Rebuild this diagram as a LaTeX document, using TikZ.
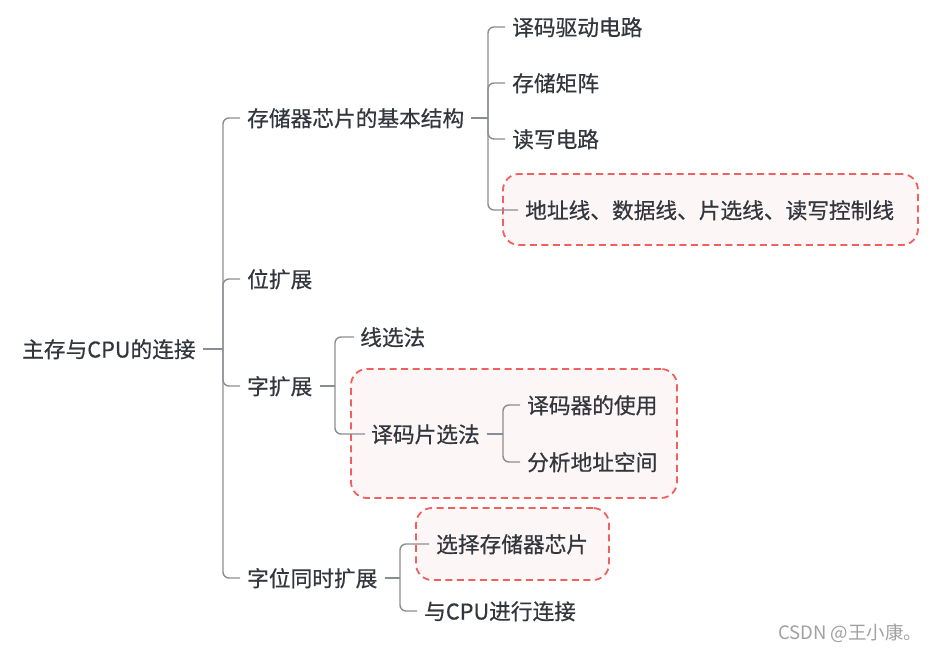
\documentclass[tikz,border=0pt]{standalone}
\usepackage{fontspec}
\setmainfont{Noto Sans CJK SC}
\newfontfamily\mfont[FakeBold=0.6]{Noto Sans CJK SC}
\definecolor{txt}{HTML}{33373D}
\definecolor{conncol}{HTML}{8A8E94}
\definecolor{dashcol}{HTML}{F0605E}
\definecolor{boxfill}{HTML}{FDF6F6}
\definecolor{wmcol}{HTML}{A0A0A0}
\begin{document}
\begin{tikzpicture}[x=1pt,y=-1pt,
  lbl/.style={anchor=west, inner sep=0pt, font=\mfont\fontsize{21.7}{21.7}\selectfont, text=txt, text height=18.5pt, text depth=1.5pt},
  conn/.style={draw=conncol, line width=1.4pt, rounded corners=6pt},
  hlbox/.style={draw=dashcol, line width=1.8pt, dash pattern=on 7pt off 4.5pt, fill=boxfill, rounded corners=16pt, inner sep=0pt},
  wm/.style={anchor=west, inner sep=0pt, font=\fontsize{18.5}{18.5}\selectfont, text=wmcol, text height=15pt, text depth=1pt}
]
\useasboundingbox (0,0) rectangle (930,650);
% highlight boxes
\node[hlbox, minimum width=415pt, minimum height=71pt] (h1) at (710.5,209.5) {};
\node[hlbox, minimum width=326pt, minimum height=129pt] (h2) at (514,433.5) {};
\node[hlbox, minimum width=193pt, minimum height=72pt] (h3) at (512.5,544) {};
% texts
\node[lbl] (root) at (22,349) {主存与CPU的连接};
\node[lbl] (a1) at (247,118) {存储器芯片的基本结构};
\node[lbl] (a2) at (247,279) {位扩展};
\node[lbl] (a3) at (247,386) {字扩展};
\node[lbl] (a4) at (247,578) {字位同时扩展};
\node[lbl] (b1) at (512,27) {译码驱动电路};
\node[lbl] (b2) at (512,83) {存储矩阵};
\node[lbl] (b3) at (512,139) {读写电路};
\node[lbl] (b4) at (525,210) {地址线、数据线、片选线、读写控制线};
\node[lbl] (c1) at (360,337) {线选法};
\node[lbl] (c2) at (371,434) {译码片选法};
\node[lbl] (d1) at (527,405) {译码器的使用};
\node[lbl] (d2) at (527,462) {分析地址空间};
\node[lbl] (e1) at (436,544) {选择存储器芯片};
\node[lbl] (e2) at (424,611) {与CPU进行连接};
\node[wm] (wm) at (778,632) {CSDN @王小康。};
% junctions
\coordinate (j0) at (223,349);
\coordinate (j1) at (488,118);
\coordinate (j3) at (335,386);
\coordinate (j4) at (400,578);
\coordinate (j5) at (503,434);
% connectors
\draw[conn] ([xshift=7pt]root.east) -- (j0);
\foreach \c in {a1,a2,a3,a4} \draw[conn] (j0) |- ([xshift=-7pt]\c.west);
\draw[conn] ([xshift=7pt]a1.east) -- (j1);
\foreach \c in {b1,b2,b3,b4} \draw[conn] (j1) |- ([xshift=-7pt]\c.west);
\draw[conn] ([xshift=7pt]a3.east) -- (j3);
\foreach \c in {c1,c2} \draw[conn] (j3) |- ([xshift=-6pt]\c.west);
\draw[conn] ([xshift=7pt]c2.east) -- (j5);
\foreach \c in {d1,d2} \draw[conn] (j5) |- ([xshift=-7pt]\c.west);
\draw[conn] ([xshift=7pt]a4.east) -- (j4);
\foreach \c in {e1,e2} \draw[conn] (j4) |- ([xshift=-7pt]\c.west);
\end{tikzpicture}
\end{document}
